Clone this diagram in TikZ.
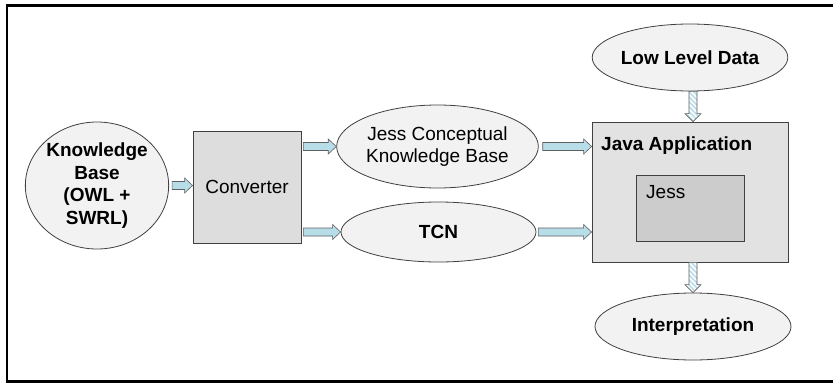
\documentclass[tikz,border=0pt]{standalone}
\usepackage{fontspec}
\setmainfont{Liberation Sans}
\usetikzlibrary{shapes.geometric,calc,patterns.meta}
\definecolor{ellfill}{HTML}{F2F2F2}
\definecolor{boxfill}{HTML}{DDDDDD}
\definecolor{innerfill}{HTML}{CCCCCC}
\definecolor{edge}{HTML}{404040}
\definecolor{arrfill}{HTML}{B7DDE8}
\definecolor{arredge}{HTML}{5F5F5F}
\tikzset{
  ell/.style={ellipse, draw=edge, fill=ellfill, line width=0.8pt, inner sep=0pt, align=center,
    font=\fontsize{19}{22.5}\selectfont},
  boxx/.style={rectangle, draw=edge, fill=boxfill, line width=0.8pt, inner sep=0pt, align=center,
    font=\fontsize{19}{22.5}\selectfont},
  lbl/.style={inner sep=0pt, anchor=base west, font=\fontsize{19}{22.5}\selectfont},
  barrow/.style={draw=arredge, fill=arrfill, line width=0.6pt, line join=miter},
  vbarrow/.style={draw=arredge, line width=0.6pt, preaction={fill=white},
    pattern={Lines[angle=-45,distance=3.5pt,line width=1.6pt]}, pattern color=arrfill}
}
\newcommand{\harrow}[2]{\draw[barrow] let \p1=(#1), \p2=(#2) in
  (\x1,\y1+4pt) -- (\x2-8pt,\y1+4pt) -- (\x2-8pt,\y1+7.5pt) -- (\x2,\y1) -- (\x2-8pt,\y1-7.5pt) -- (\x2-8pt,\y1-4pt) -- (\x1,\y1-4pt) -- cycle;}
\newcommand{\varrow}[2]{\draw[vbarrow] let \p1=(#1), \p2=(#2) in
  (\x1-4pt,\y1) -- (\x1-4pt,\y2+8pt) -- (\x1-8pt,\y2+8pt) -- (\x1,\y2) -- (\x1+8pt,\y2+8pt) -- (\x1+4pt,\y2+8pt) -- (\x1+4pt,\y1) -- cycle;}
\begin{document}
\begin{tikzpicture}[x=1pt,y=-1pt]
\useasboundingbox (0,0) rectangle (833,383);
\draw[line width=2.2pt] (860,5.5) -- (7,5.5) -- (7,381.5) -- (860,381.5);

\node[ell, minimum width=138pt, minimum height=127pt, font=\bfseries\fontsize{19}{22.5}\selectfont] (kb) at (97,185.5) {Knowledge\\Base\\(OWL +\\SWRL)};
\node[boxx, minimum width=108pt, minimum height=112pt] (conv) at (247,187) {Converter};
\node[ell, minimum width=201pt, minimum height=83pt] (jcb) at (437.5,146.5) {Jess Conceptual\\Knowledge Base};
\node[ell, minimum width=195pt, minimum height=60pt, font=\bfseries\fontsize{19}{22.5}\selectfont] (tcn) at (438.5,232) {TCN};
\node[boxx, fill=boxfill!85!white, minimum width=196pt, minimum height=140pt] (java) at (690,192) {};
\node[lbl, font=\bfseries\fontsize{19}{22.5}\selectfont] (javal) at (601,150) {Java Application};
\node[boxx, fill=innerfill, minimum width=108pt, minimum height=66pt] (jess) at (690,208) {};
\node[lbl] (jessl) at (646,198) {Jess};
\node[ell, minimum width=194pt, minimum height=67pt, font=\bfseries\fontsize{19}{22.5}\selectfont] (lld) at (690,57.5) {Low Level Data};
\node[ell, minimum width=196pt, minimum height=67pt, font=\bfseries\fontsize{19}{22.5}\selectfont] (interp) at (693,326.5) {Interpretation};

\harrow{$(kb.east)+(3,0)$}{conv.west};
\harrow{$(conv.east |- jcb.east)+(2,0)$}{jcb.west};
\harrow{$(conv.east |- tcn.east)+(2,0)$}{tcn.west};
\harrow{$(jcb.east)+(4,0)$}{java.west |- jcb.east};
\harrow{$(tcn.east)+(2,0)$}{java.west |- tcn.east};
\varrow{$(lld.south)+(3,0)$}{$(java.north)+(3,0)$};
\varrow{$(java.south)+(3,0)$}{$(interp.north)$};
\end{tikzpicture}
\end{document}
